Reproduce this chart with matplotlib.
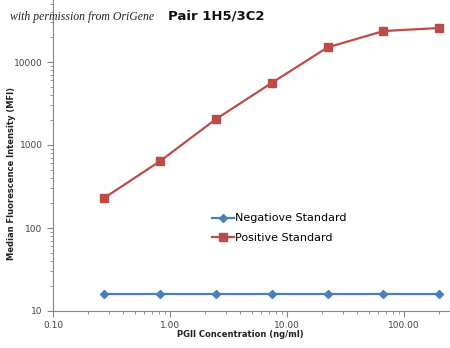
import matplotlib.pyplot as plt
from matplotlib.ticker import FixedLocator, LogLocator, NullFormatter

# PGII dilution series (3-fold from 200 ng/ml)
conc = [0.274, 0.823, 2.47, 7.41, 22.2, 66.7, 200.0]
negative = [16, 16, 16, 16, 16, 16, 16]
positive = [230, 640, 2050, 5600, 15000, 23600, 25700]

xticks = [0.1, 1, 10, 100]
xlabels = ['0.10', '1.00', '10.00', '100.00']
yticks = [10, 100, 1000, 10000]
ylabels = ['10', '100', '1000', '10000']

blue = '#4a7ebb'
red = '#be4b48'
grey = '#868686'

fig = plt.figure(figsize=(4.5, 3.48), dpi=100)
# axes run past the right/top edge of the canvas
ax = fig.add_axes([53/450, 37/348, 468/450, 332/348])

ax.plot(conc, negative, color=blue, lw=1.6, marker='D', ms=4.5,
        label='Negatiove Standard')
ax.plot(conc, positive, color=red, lw=1.6, marker='s', ms=5.5,
        label='Positive Standard')

ax.set_xscale('log')
ax.set_yscale('log')
ax.set_xlim(0.1, 1000)
ax.set_ylim(10, 100000)

ax.xaxis.set_major_locator(FixedLocator(xticks))
ax.set_xticklabels(xlabels)
ax.yaxis.set_major_locator(FixedLocator(yticks))
ax.set_yticklabels(ylabels)
ax.xaxis.set_minor_locator(LogLocator(base=10, subs=range(2, 10)))
ax.yaxis.set_minor_locator(LogLocator(base=10, subs=range(2, 10)))
ax.xaxis.set_minor_formatter(NullFormatter())
ax.yaxis.set_minor_formatter(NullFormatter())

for s in ['top', 'right']:
    ax.spines[s].set_visible(False)
for s in ['left', 'bottom']:
    ax.spines[s].set_color(grey)
    ax.spines[s].set_linewidth(0.8)
ax.tick_params(which='major', length=4, color=grey, labelsize=6.5,
               labelcolor='#444444', direction='out')
ax.tick_params(which='minor', length=2.5, color=grey, direction='out')

ax.set_xlabel('PGII Concentration (ng/ml)', fontsize=6, fontweight='bold',
              color='#222222')
ax.xaxis.set_label_coords((240 - 53) / 468, -19/332)
ax.set_ylabel('Median Fluorescence Intensity (MFI)', fontsize=6,
              fontweight='bold', color='#222222')
ax.yaxis.set_label_coords(-37/468, (311 - 174) / 332)

leg = ax.legend(loc='upper left', bbox_to_anchor=((208 - 53) / 468, (311 - 209) / 332),
                frameon=False, fontsize=8, handlelength=1.9, handletextpad=0.15,
                labelspacing=0.85, borderaxespad=0)

fig.text(10/450, 1 - 17/348, 'with permission from OriGene', fontsize=8.5,
         fontstyle='italic', family='Liberation Serif', va='center', color='#222222')
fig.text(168/450, 1 - 16/348, 'Pair 1H5/3C2', fontsize=9.5, fontweight='bold',
         va='center', color='#111111')

fig.savefig('out.png', dpi=100)
